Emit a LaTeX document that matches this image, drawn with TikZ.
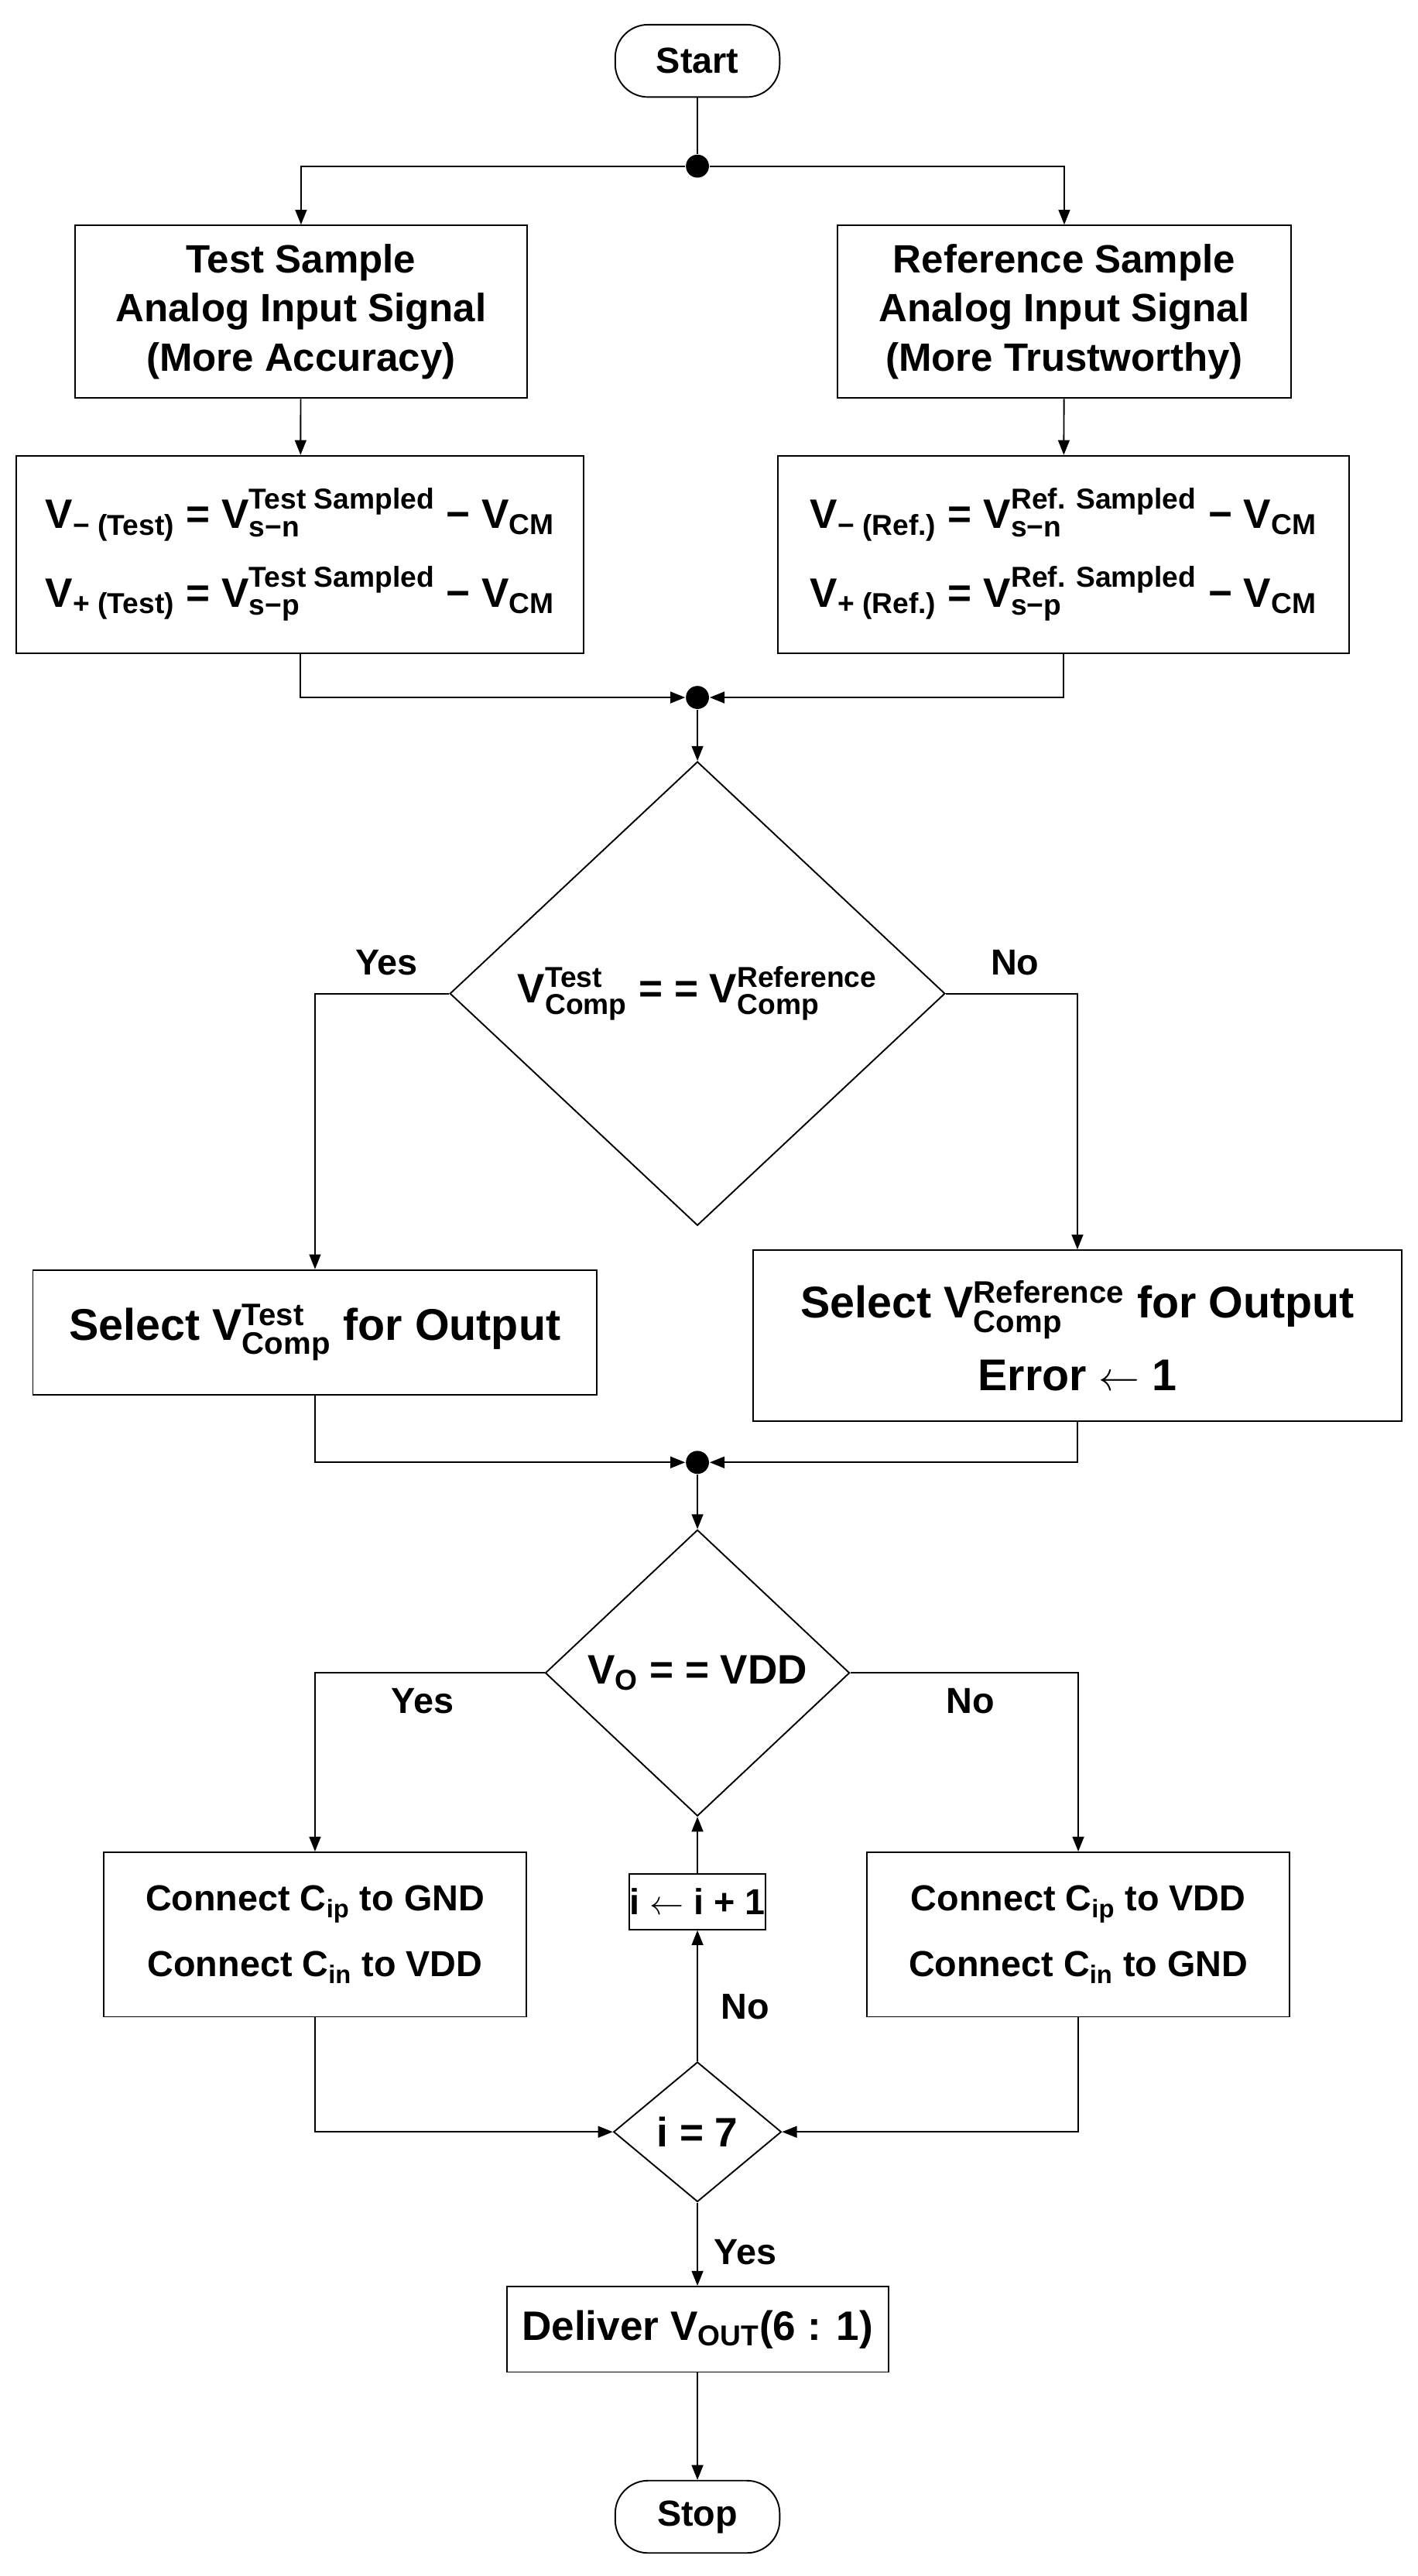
\documentclass[tikz,border=0pt]{standalone}
\usepackage{amsmath,amssymb}
\usepackage{fontspec}
\setmainfont{Liberation Sans}
\usepackage{tikz}
\usetikzlibrary{shapes.geometric,arrows.meta}

\newcommand{\ssub}[2]{\ensuremath{^{\text{#1}}_{\text{#2}}}}
\newcommand{\tsub}[1]{\ensuremath{_{\text{#1}}}}

\begin{document}
\begin{tikzpicture}[x=1pt,y=-1pt,font=\bfseries\fontsize{22}{30}\selectfont,
    box/.style={draw,line width=0.9pt,align=center,inner sep=0pt},
    term/.style={draw,line width=0.9pt,rounded corners=20pt,minimum width=100pt,minimum height=44pt},
    dec/.style={draw,line width=0.9pt,diamond,inner sep=0pt},
    dot/.style={circle,fill,inner sep=0pt,minimum size=14pt},
    lbl/.style={font=\bfseries\fontsize{22}{26}\selectfont},
    eqn/.style={font=\bfseries\fontsize{25}{30}\selectfont},
    every path/.style={line width=0.9pt},
    >={Triangle[length=9pt,width=7pt]}]
    %
    \useasboundingbox (0,0) rectangle (862,1566);
    %
    \node[term] (start) at (424,37) {Start};
    \node[dot] (j1) at (424,101) {};
    \node[box,minimum width=275pt,minimum height=105pt] (test) at (183,189.5)
        {\fontsize{24}{31}\selectfont Test Sample\\ \fontsize{24}{31}\selectfont Analog Input Signal\\ \fontsize{24}{31}\selectfont (More Accuracy)};
    \node[box,minimum width=276pt,minimum height=105pt] (ref) at (647,189.5)
        {\fontsize{24}{31}\selectfont Reference Sample\\ \fontsize{24}{31}\selectfont Analog Input Signal\\ \fontsize{24}{31}\selectfont (More Trustworthy)};
    \node[box,eqn,minimum width=345pt,minimum height=120pt] (tv) at (182.5,337)
        {V\tsub{− (Test)} = V\ssub{Test Sampled}{s−n} − V\tsub{CM}\\[14pt]
         V\tsub{+ (Test)} = V\ssub{Test Sampled}{s−p} − V\tsub{CM}};
    \node[box,eqn,minimum width=347pt,minimum height=120pt] (rv) at (646.5,337)
        {V\tsub{− (Ref.)} = V\ssub{Ref. Sampled}{s−n} − V\tsub{CM}\\[14pt]
         V\tsub{+ (Ref.)} = V\ssub{Ref. Sampled}{s−p} − V\tsub{CM}};
    \node[dot] (j2) at (424,424) {};
    \node[dec,eqn,minimum width=301pt,minimum height=282pt] (cmp) at (424,604)
        {V\ssub{Test}{Comp} = = V\ssub{Reference}{Comp}};
    \node[box,minimum width=343pt,minimum height=76pt] (seltest) at (191.5,810)
        {\fontsize{27}{34}\selectfont Select V\ssub{Test}{Comp} for Output};
    \node[box,minimum width=394pt,minimum height=104pt] (selref) at (655,812)
        {\fontsize{27}{34}\selectfont Select V\ssub{Reference}{Comp} for Output\\[12pt]
         \fontsize{27}{34}\selectfont Error $\leftarrow$ 1};
    \node[dot] (j3) at (424,889) {};
    \node[dec,eqn,minimum width=185pt,minimum height=174pt] (vo) at (424,1017)
        {V\tsub{O} = = VDD};
    \node[box,minimum width=257pt,minimum height=100pt] (gnd) at (191.5,1176)
        {Connect C\tsub{ip} to GND\\[10pt] Connect C\tsub{in} to VDD};
    \node[box,minimum width=257pt,minimum height=100pt] (vdd) at (655.5,1176)
        {Connect C\tsub{ip} to VDD\\[10pt] Connect C\tsub{in} to GND};
    \node[box,minimum width=82pt,minimum height=34pt] (inc) at (424,1156) {i $\leftarrow$ i + 1};
    \node[dec,eqn,minimum width=102pt,minimum height=85pt] (ieq) at (424,1296) {i = 7};
    \node[box,eqn,minimum width=232pt,minimum height=52pt] (out) at (424,1416)
        {Deliver V\tsub{OUT}(6 : 1)};
    \node[term] (stop) at (424,1530) {Stop};
    %
    \draw (start) -- (j1);
    \draw[->] (j1) -| (test);
    \draw[->] (j1) -| (ref);
    \draw[->] (test) -- (tv);
    \draw[->] (ref) -- (rv);
    \draw[->] (tv) |- (j2);
    \draw[->] (rv) |- (j2);
    \draw[->] (j2) -- (cmp);
    \draw[->] (cmp.west) -| (seltest);
    \draw[->] (cmp.east) -| (selref);
    \draw[->] (seltest) |- (j3);
    \draw[->] (selref) |- (j3);
    \draw[->] (j3) -- (vo);
    \draw[->] (vo.west) -| (gnd);
    \draw[->] (vo.east) -| (vdd);
    \draw[->] (gnd) |- (ieq.west);
    \draw[->] (vdd) |- (ieq.east);
    \draw[->] (ieq) -- (inc);
    \draw[->] (inc) -- (vo);
    \draw[->] (ieq) -- (out);
    \draw[->] (out) -- (stop);
    %
    \node[lbl] (yes1) at (235,585) {Yes};
    \node[lbl] (no1) at (617,585) {No};
    \node[lbl] (yes2) at (257,1034) {Yes};
    \node[lbl] (no2) at (590,1034) {No};
    \node[lbl] (no3) at (453,1220) {No};
    \node[lbl] (yes3) at (453,1369) {Yes};
    %
\end{tikzpicture}
\end{document}
